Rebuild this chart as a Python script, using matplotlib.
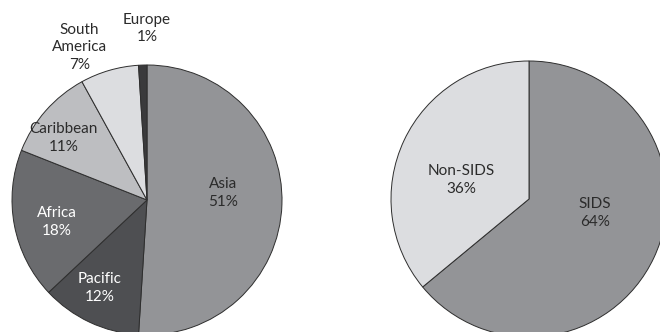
import matplotlib
matplotlib.use("Agg")
import matplotlib.pyplot as plt

plt.rcParams['font.family'] = ['Lato', 'DejaVu Sans']

# Regional distribution
regions = ["Asia", "Pacific", "Africa", "Caribbean", "South\nAmerica", "Europe"]
region_share = [51, 12, 18, 11, 7, 1]
region_colors = ["#939497", "#4e4f52", "#6a6b6e", "#bdbec1", "#dcdde0", "#3a3a3c"]
region_text = ["#2b2b2b", "white", "white", "#2b2b2b", "#2b2b2b", "#2b2b2b"]
# label centres in units of the pie radius
region_label_xy = [(0.56, 0.05), (-0.35, -0.65), (-0.67, -0.16), (-0.62, 0.46),
                   (-0.50, 1.13), (0.0, 1.27)]

# SIDS vs non-SIDS
groups = ["SIDS", "Non-SIDS"]
group_share = [64, 36]
group_colors = ["#939497", "#dcdde0"]
group_label_xy = [(0.48, -0.10), (-0.49, 0.14)]

W, H = 660, 332
fig = plt.figure(figsize=(W / 100, H / 100), dpi=100)
fig.patch.set_facecolor("white")


def pie_axes(cx, cy_top, r):
    cy = H - cy_top
    return fig.add_axes([(cx - r) / W, (cy - r) / H, 2 * r / W, 2 * r / H])


def draw(ax, values, colors, labels, text_colors, label_xy):
    ax.pie(values, colors=colors, startangle=90, counterclock=False, radius=1.0,
           wedgeprops=dict(edgecolor="#2e2e2e", linewidth=0.7))
    ax.set_xlim(-1, 1)
    ax.set_ylim(-1, 1)
    ax.set_aspect("equal")
    ax.axis("off")
    for lab, v, tc, (x, y) in zip(labels, values, text_colors, label_xy):
        ax.text(x, y, f"{lab}\n{v}%", ha="center", va="center", color=tc,
                fontsize=11, linespacing=1.35, clip_on=False)


ax1 = pie_axes(147, 200, 135)
draw(ax1, region_share, region_colors, regions, region_text, region_label_xy)

ax2 = pie_axes(529, 199, 138)
draw(ax2, group_share, group_colors, groups, ["#2b2b2b", "#2b2b2b"], group_label_xy)

fig.savefig("out.png", dpi=100, facecolor="white")
